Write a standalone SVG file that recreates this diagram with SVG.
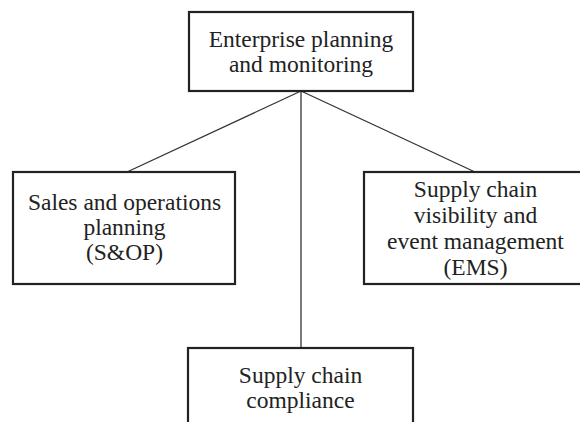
<svg xmlns="http://www.w3.org/2000/svg" width="580" height="422" viewBox="0 0 580 422">
<style>
.box{fill:#fff;stroke:#222;stroke-width:2.2}
.t{font-family:"Liberation Serif","Times New Roman",serif;font-size:23.5px;fill:#222;text-anchor:middle}
.c{stroke:#333;stroke-width:1.3;fill:none}
</style>
<rect width="580" height="422" fill="#fff"/>
<g id="connectors">
<line class="c" x1="301" y1="91" x2="127" y2="172"/>
<line class="c" x1="301" y1="91" x2="475" y2="172"/>
<line class="c" x1="301" y1="91" x2="301" y2="348"/>
</g>
<g id="enterprise">
<rect class="box" x="189" y="12" width="224" height="79"/>
<text class="t" x="301" y="47">Enterprise planning</text>
<text class="t" x="301" y="72">and monitoring</text>
</g>
<g id="sop">
<rect class="box" x="13" y="172" width="222" height="112"/>
<text class="t" x="124.5" y="210">Sales and operations</text>
<text class="t" x="124.5" y="235">planning</text>
<text class="t" x="124.5" y="260">(S&amp;OP)</text>
</g>
<g id="ems">
<rect class="box" x="364" y="172" width="224" height="112"/>
<text class="t" x="475.5" y="197">Supply chain</text>
<text class="t" x="475.5" y="223">visibility and</text>
<text class="t" x="475.5" y="249">event management</text>
<text class="t" x="475.5" y="275">(EMS)</text>
</g>
<g id="compliance">
<rect class="box" x="188" y="348" width="225" height="90"/>
<text class="t" x="300.5" y="383">Supply chain</text>
<text class="t" x="300.5" y="408">compliance</text>
</g>
</svg>
